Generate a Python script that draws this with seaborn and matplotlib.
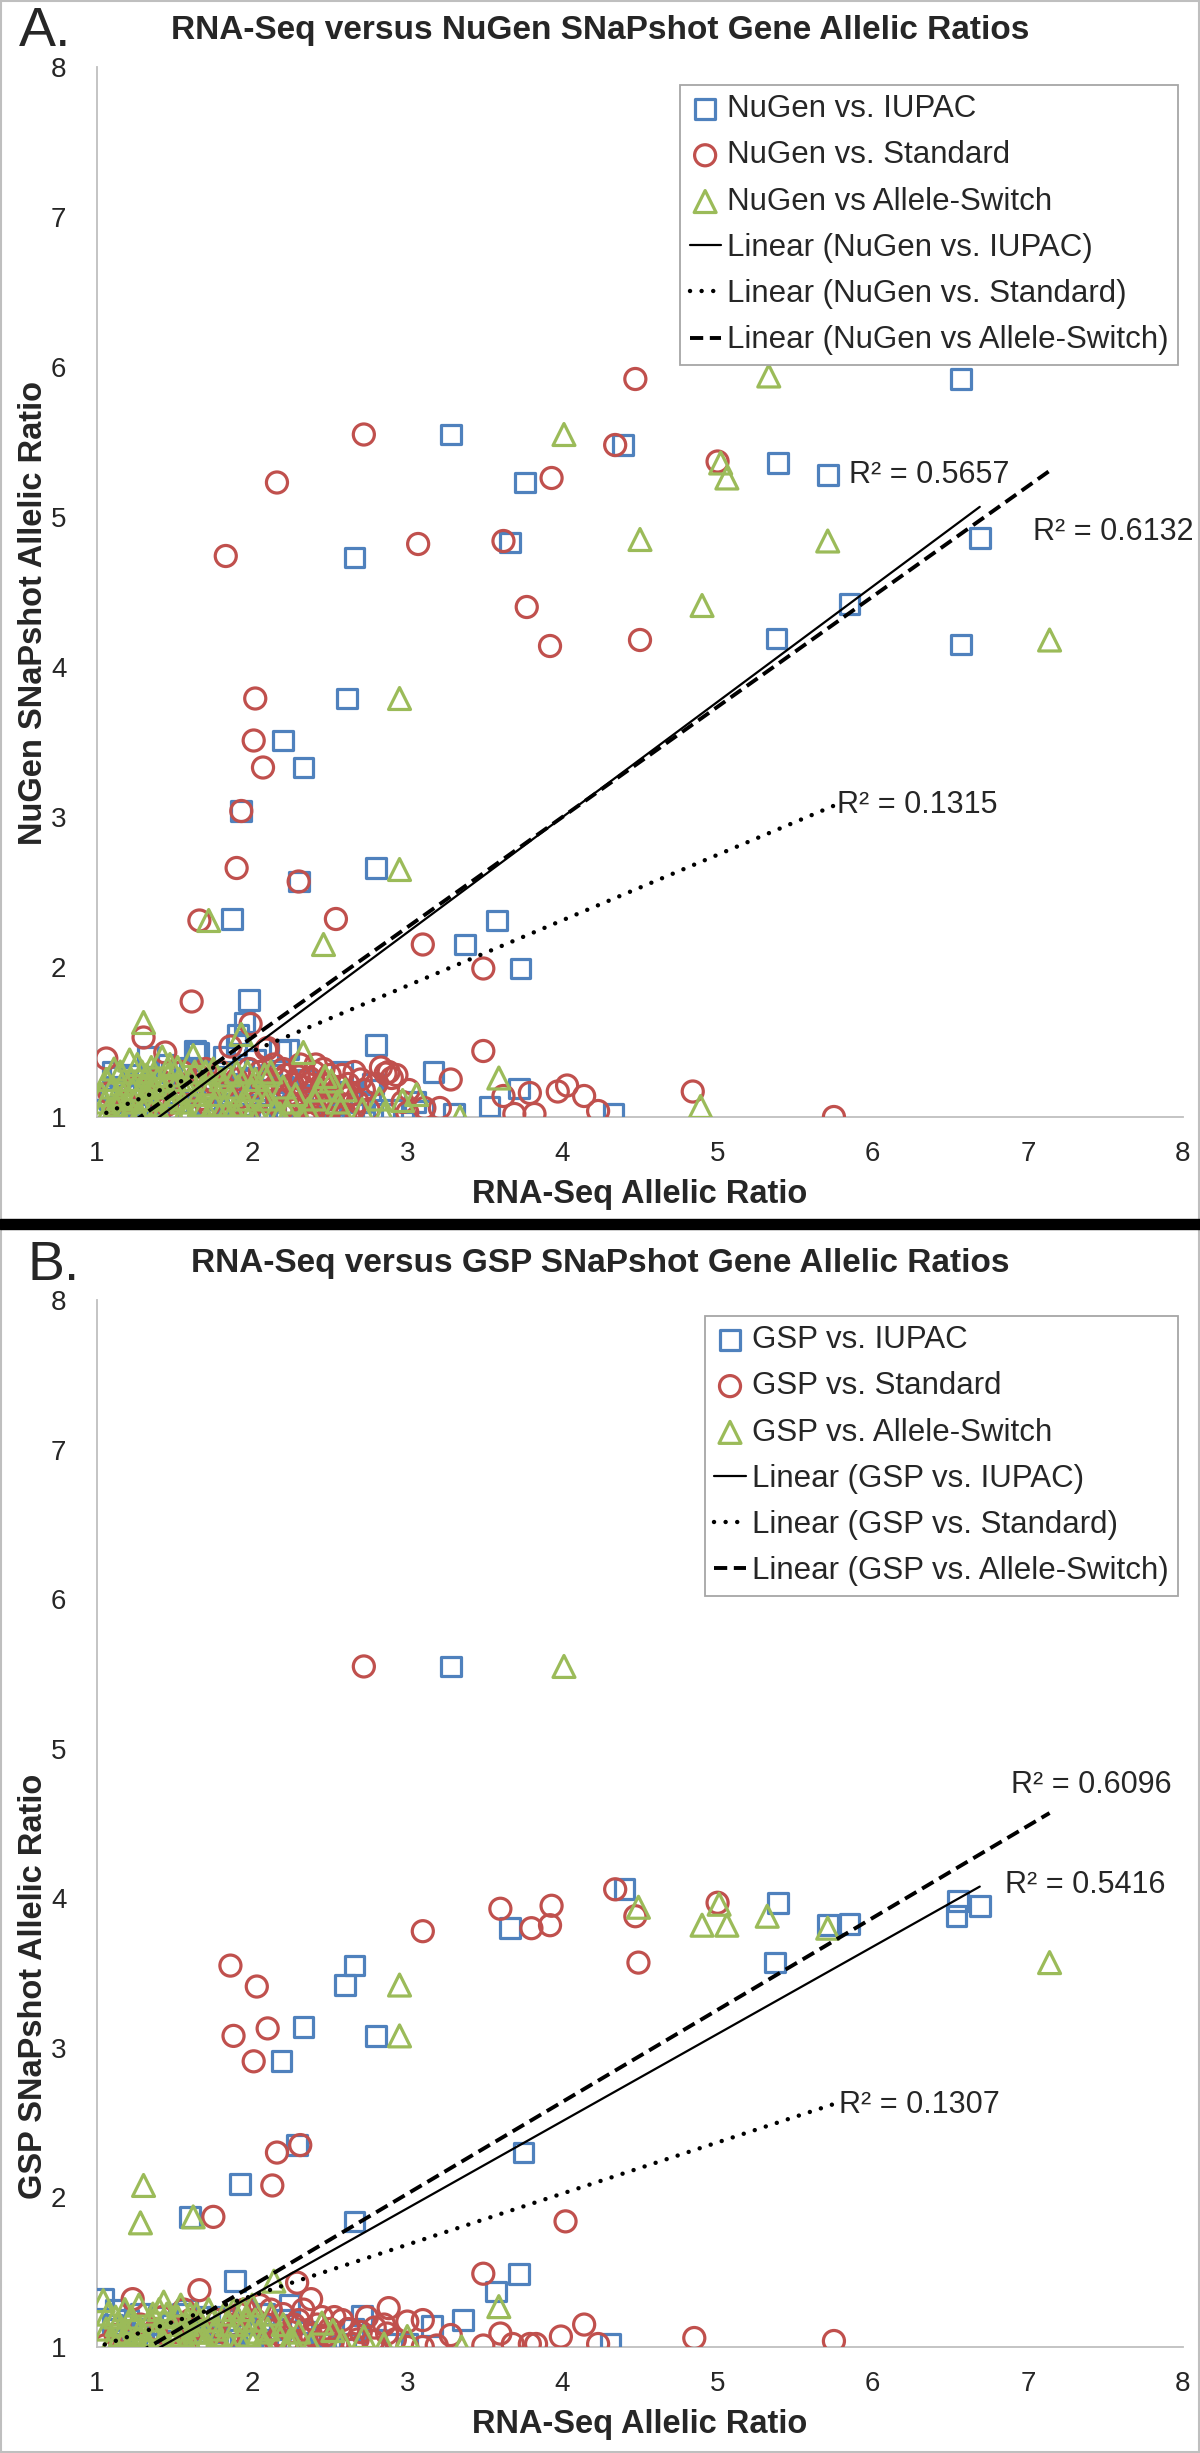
import numpy as np
import seaborn as sns
import matplotlib.pyplot as plt
from matplotlib.patches import Rectangle


BLUE = "#4F81BD"
RED = "#C0504D"
GREEN = "#9BBB59"

X_TICKS = [1, 2, 3, 4, 5, 6, 7, 8]
Y_TICKS = [1, 2, 3, 4, 5, 6, 7, 8]

# ---- Panel A: RNA-Seq vs NuGen SNaPshot (x, y) ----
A_IUPAC = [
    (6.57, 5.92), (3.28, 5.55), (4.39, 5.48), (5.39, 5.36), (5.71, 5.28), (3.76, 5.23),
    (6.69, 4.86), (3.66, 4.83), (2.66, 4.73), (5.85, 4.42), (5.38, 4.19), (6.57, 4.15),
    (2.61, 3.79), (2.20, 3.51), (2.33, 3.33), (1.93, 3.04), (2.80, 2.66), (2.30, 2.57),
    (1.87, 2.32), (3.58, 2.31), (3.37, 2.15), (3.73, 1.99), (1.98, 1.78), (1.95, 1.63),
    (1.91, 1.55), (1.90, 1.48), (2.80, 1.48), (2.23, 1.45), (2.18, 1.44), (1.63, 1.44),
    (1.65, 1.43), (1.33, 1.40), (3.17, 1.30), (2.58, 1.30), (1.15, 1.27), (1.24, 1.28),
    (2.78, 1.22), (2.76, 1.18), (3.72, 1.19), (3.53, 1.07), (4.33, 1.02), (1.04, 1.05),
    (1.08, 1.12), (1.12, 1.20), (1.18, 1.10), (1.20, 1.02), (1.22, 1.15), (1.28, 1.08),
    (1.30, 1.18), (1.35, 1.02), (1.38, 1.12), (1.42, 1.22), (1.45, 1.06), (1.48, 1.30),
    (1.50, 1.15), (1.53, 1.03), (1.56, 1.20), (1.60, 1.33), (1.68, 1.25), (1.72, 1.04),
    (1.75, 1.18), (1.80, 1.30), (1.84, 1.08), (1.88, 1.22), (1.92, 1.02), (1.96, 1.14),
    (2.00, 1.26), (2.05, 1.05), (2.10, 1.18), (2.15, 1.10), (2.22, 1.02), (2.30, 1.15),
    (2.40, 1.03), (2.50, 1.08), (2.65, 1.02), (2.90, 1.05), (3.05, 1.10), (3.30, 1.02),
    (1.10, 1.30), (1.26, 1.02), (1.32, 1.25), (1.40, 1.08), (1.44, 1.35), (1.52, 1.10),
    (1.58, 1.02), (1.62, 1.22), (1.70, 1.12), (1.78, 1.05), (1.82, 1.40), (1.86, 1.15),
    (1.94, 1.32), (1.98, 1.08), (2.02, 1.38), (2.08, 1.02), (2.12, 1.28), (2.20, 1.20),
    (2.26, 1.08), (2.35, 1.25), (2.45, 1.12), (2.55, 1.02), (2.70, 1.10), (2.85, 1.02),
    (3.10, 1.04),
]
A_STD = [
    (4.47, 5.92), (2.72, 5.55), (4.34, 5.48), (5.00, 5.37), (3.93, 5.26), (2.16, 5.23),
    (3.07, 4.82), (3.62, 4.84), (1.83, 4.74), (3.77, 4.40), (4.50, 4.18), (3.92, 4.14),
    (2.02, 3.79), (2.01, 3.51), (2.07, 3.33), (1.93, 3.04), (1.90, 2.66), (2.30, 2.57),
    (1.66, 2.31), (2.54, 2.32), (3.10, 2.15), (3.49, 1.99), (1.61, 1.77), (1.30, 1.53),
    (1.99, 1.62), (1.86, 1.47), (2.09, 1.45), (1.06, 1.39), (3.49, 1.44), (1.44, 1.43),
    (2.41, 1.35), (2.83, 1.33), (2.88, 1.30), (2.93, 1.28), (3.28, 1.25), (4.03, 1.21),
    (3.97, 1.17), (4.14, 1.14), (3.79, 1.16), (4.84, 1.17), (5.75, 1.00), (3.62, 1.14),
    (3.69, 1.02), (3.82, 1.02), (4.23, 1.04), (3.21, 1.06), (3.11, 1.06), (3.00, 1.03),
    (3.01, 1.18), (2.80, 1.22), (2.61, 1.13), (2.66, 1.06), (2.49, 1.00), (2.39, 1.00),
    (1.97, 1.00), (1.08, 1.16), (1.12, 1.05), (1.16, 1.02), (1.20, 1.10), (1.25, 1.20),
    (1.30, 1.05), (1.35, 1.15), (1.40, 1.25), (1.50, 1.10), (1.55, 1.30), (1.60, 1.18),
    (1.65, 1.28), (1.70, 1.32), (1.72, 1.08), (1.76, 1.22), (1.80, 1.30), (1.85, 1.12),
    (1.90, 1.25), (1.95, 1.05), (2.00, 1.20), (2.05, 1.30), (2.10, 1.46), (2.12, 1.10),
    (2.18, 1.25), (2.20, 1.32), (2.24, 1.15), (2.28, 1.05), (2.30, 1.27), (2.33, 1.20),
    (2.36, 1.10), (2.40, 1.30), (2.42, 1.02), (2.45, 1.22), (2.48, 1.15), (2.50, 1.28),
    (2.53, 1.08), (2.56, 1.20), (2.60, 1.02), (2.64, 1.15), (2.70, 1.25), (2.75, 1.05),
    (2.86, 1.29), (2.90, 1.26), (2.97, 1.10), (2.14, 1.35), (2.16, 1.18), (2.19, 1.05),
    (2.22, 1.28), (2.26, 1.22), (2.29, 1.12), (2.31, 1.35), (2.34, 1.02), (2.37, 1.26),
    (2.39, 1.18), (2.43, 1.08), (2.46, 1.32), (2.49, 1.22), (2.52, 1.12), (2.55, 1.04),
    (2.58, 1.28), (2.62, 1.22), (2.66, 1.30), (2.68, 1.10), (2.72, 1.18), (1.45, 1.08),
    (1.58, 1.22), (1.68, 1.12), (1.82, 1.20), (1.88, 1.02), (1.98, 1.32), (2.03, 1.10),
    (2.07, 1.22),
]
A_SWITCH = [
    (5.33, 5.94), (4.01, 5.55), (5.02, 5.36), (5.06, 5.26), (4.50, 4.85), (5.71, 4.84),
    (4.90, 4.41), (7.14, 4.18), (2.95, 3.79), (2.95, 2.65), (1.72, 2.31), (2.46, 2.15),
    (1.30, 1.63), (1.93, 1.55), (2.33, 1.43), (3.59, 1.26), (3.34, 1.00), (4.89, 1.07),
    (2.97, 1.11), (2.82, 1.12), (2.71, 1.05), (2.51, 1.24), (2.57, 1.06), (2.40, 1.12),
    (2.23, 1.03), (1.02, 1.02), (1.05, 1.10), (1.07, 1.04), (1.10, 1.20), (1.12, 1.08),
    (1.15, 1.30), (1.17, 1.15), (1.20, 1.02), (1.22, 1.25), (1.24, 1.10), (1.26, 1.35),
    (1.28, 1.18), (1.30, 1.05), (1.32, 1.28), (1.34, 1.12), (1.36, 1.22), (1.38, 1.03),
    (1.42, 1.40), (1.44, 1.15), (1.46, 1.28), (1.48, 1.06), (1.50, 1.20), (1.52, 1.33),
    (1.55, 1.10), (1.58, 1.02), (1.60, 1.25), (1.62, 1.41), (1.65, 1.15), (1.68, 1.05),
    (1.70, 1.30), (1.73, 1.20), (1.76, 1.08), (1.80, 1.25), (1.83, 1.02), (1.86, 1.15),
    (1.90, 1.30), (1.93, 1.08), (1.97, 1.30), (2.00, 1.18), (2.04, 1.02), (2.08, 1.28),
    (2.10, 1.12), (2.15, 1.05), (2.20, 1.20), (2.25, 1.10), (2.32, 1.00), (2.47, 1.27),
    (2.60, 1.18), (2.85, 1.02), (3.06, 1.15), (1.03, 1.15), (1.06, 1.25), (1.09, 1.02),
    (1.11, 1.32), (1.14, 1.12), (1.16, 1.22), (1.19, 1.06), (1.21, 1.38), (1.23, 1.18),
    (1.27, 1.02), (1.29, 1.30), (1.31, 1.12), (1.33, 1.20), (1.35, 1.33), (1.37, 1.08),
    (1.39, 1.25), (1.41, 1.02), (1.43, 1.20), (1.47, 1.35), (1.49, 1.12), (1.53, 1.25),
    (1.56, 1.03), (1.59, 1.18), (1.63, 1.30), (1.66, 1.08), (1.69, 1.22), (1.72, 1.02),
    (1.75, 1.32), (1.78, 1.15), (1.82, 1.08), (1.85, 1.28), (1.88, 1.05), (1.91, 1.20),
    (1.95, 1.12), (1.99, 1.02), (2.02, 1.25), (2.06, 1.15), (2.12, 1.30), (2.18, 1.02),
    (2.28, 1.15), (2.36, 1.05), (2.44, 1.18), (2.55, 1.10),
]

# ---- Panel B: RNA-Seq vs GSP SNaPshot (x, y) ----
B_IUPAC = [
    (3.28, 5.55), (4.40, 4.06), (5.39, 3.97), (6.55, 3.98), (6.69, 3.95), (6.54, 3.88),
    (5.85, 3.83), (5.71, 3.82), (3.66, 3.80), (2.66, 3.55), (5.37, 3.57), (2.60, 3.42),
    (2.33, 3.14), (2.80, 3.08), (2.19, 2.91), (2.29, 2.35), (3.75, 2.30), (1.92, 2.09),
    (1.60, 1.87), (2.66, 1.84), (3.72, 1.49), (3.57, 1.37), (1.89, 1.44), (1.04, 1.32),
    (2.24, 1.28), (2.71, 1.21), (3.16, 1.14), (3.36, 1.18), (4.31, 1.02), (1.10, 1.15),
    (1.15, 1.05), (1.20, 1.18), (1.25, 1.08), (1.30, 1.12), (1.35, 1.02), (1.40, 1.20),
    (1.45, 1.10), (1.50, 1.04), (1.55, 1.22), (1.60, 1.12), (1.65, 1.05), (1.70, 1.20),
    (1.75, 1.10), (1.80, 1.02), (1.85, 1.18), (1.90, 1.08), (1.95, 1.25), (2.00, 1.05),
    (2.05, 1.15), (2.10, 1.02), (2.18, 1.12), (2.30, 1.03), (2.45, 1.08), (2.60, 1.02),
    (2.80, 1.05), (3.00, 1.02), (1.12, 1.25), (1.22, 1.02), (1.28, 1.22), (1.38, 1.05),
    (1.48, 1.15), (1.58, 1.25), (1.68, 1.10), (1.78, 1.20), (1.88, 1.02), (1.98, 1.15),
    (2.08, 1.22), (2.15, 1.05), (2.22, 1.18), (2.35, 1.10), (2.50, 1.02), (2.65, 1.12),
    (2.90, 1.02),
]
B_STD = [
    (2.72, 5.55), (4.34, 4.06), (3.93, 3.95), (5.00, 3.97), (3.60, 3.93), (4.47, 3.88),
    (3.92, 3.82), (3.80, 3.80), (3.10, 3.78), (4.49, 3.57), (1.86, 3.55), (2.03, 3.41),
    (2.10, 3.13), (1.88, 3.08), (2.01, 2.91), (2.31, 2.35), (2.16, 2.30), (2.13, 2.08),
    (1.75, 1.87), (4.02, 1.84), (3.49, 1.49), (2.29, 1.43), (1.66, 1.38), (2.38, 1.32),
    (1.23, 1.32), (2.88, 1.26), (2.53, 1.20), (2.74, 1.20), (2.79, 1.13), (3.00, 1.17),
    (3.10, 1.18), (3.28, 1.08), (3.60, 1.09), (4.14, 1.15), (3.99, 1.07), (2.87, 1.09),
    (3.19, 1.01), (3.10, 1.00), (3.49, 1.01), (3.68, 1.02), (3.79, 1.02), (3.83, 1.02),
    (4.23, 1.02), (4.85, 1.06), (5.75, 1.04), (3.00, 1.00), (1.05, 1.01), (1.12, 1.08),
    (1.18, 1.02), (1.28, 1.15), (1.35, 1.05), (1.42, 1.20), (1.50, 1.10), (1.56, 1.25),
    (1.62, 1.12), (1.70, 1.04), (1.78, 1.18), (1.85, 1.08), (1.92, 1.22), (1.98, 1.05),
    (2.05, 1.28), (2.10, 1.15), (2.15, 1.04), (2.20, 1.22), (2.25, 1.10), (2.30, 1.18),
    (2.35, 1.05), (2.42, 1.15), (2.48, 1.08), (2.55, 1.02), (2.62, 1.12), (2.68, 1.05),
    (2.02, 1.18), (2.12, 1.25), (2.18, 1.08), (2.22, 1.02), (2.27, 1.15), (2.33, 1.25),
    (2.38, 1.08), (2.40, 1.02), (2.45, 1.20), (2.50, 1.12), (2.52, 1.04), (2.58, 1.18),
    (2.65, 1.02), (2.70, 1.10), (2.78, 1.04), (2.85, 1.15), (2.92, 1.05), (1.22, 1.05),
    (1.38, 1.12), (1.48, 1.02), (1.60, 1.18), (1.75, 1.10), (1.88, 1.15), (1.95, 1.25),
]
B_SWITCH = [
    (4.01, 5.55), (4.49, 3.94), (5.01, 3.96), (4.90, 3.82), (5.06, 3.82), (5.32, 3.88),
    (5.71, 3.80), (7.14, 3.57), (2.95, 3.42), (2.95, 3.08), (1.30, 2.08), (1.62, 1.87),
    (1.28, 1.83), (2.14, 1.44), (3.59, 1.27), (1.04, 1.31), (1.07, 1.22), (2.45, 1.16),
    (2.52, 1.11), (2.58, 1.04), (2.72, 1.07), (2.85, 1.02), (3.00, 1.07), (2.24, 1.04),
    (3.35, 1.00), (1.10, 1.05), (1.13, 1.15), (1.16, 1.02), (1.19, 1.10), (1.22, 1.20),
    (1.25, 1.05), (1.28, 1.12), (1.31, 1.02), (1.34, 1.18), (1.37, 1.08), (1.40, 1.25),
    (1.43, 1.30), (1.46, 1.12), (1.49, 1.03), (1.52, 1.20), (1.55, 1.08), (1.58, 1.15),
    (1.61, 1.02), (1.64, 1.22), (1.67, 1.10), (1.70, 1.04), (1.74, 1.18), (1.78, 1.08),
    (1.82, 1.22), (1.86, 1.02), (1.90, 1.15), (1.94, 1.25), (1.98, 1.08), (2.02, 1.18),
    (2.06, 1.04), (2.10, 1.12), (2.18, 1.06), (2.30, 1.10), (2.38, 1.02), (1.06, 1.12),
    (1.09, 1.02), (1.12, 1.20), (1.15, 1.08), (1.18, 1.25), (1.21, 1.02), (1.24, 1.15),
    (1.27, 1.28), (1.30, 1.08), (1.33, 1.02), (1.36, 1.22), (1.39, 1.12), (1.42, 1.05),
    (1.45, 1.22), (1.48, 1.15), (1.51, 1.08), (1.54, 1.28), (1.57, 1.02), (1.60, 1.22),
    (1.63, 1.10), (1.66, 1.18), (1.69, 1.02), (1.72, 1.25), (1.76, 1.12), (1.80, 1.02),
    (1.84, 1.15), (1.88, 1.25), (1.92, 1.05), (1.96, 1.18), (2.00, 1.28), (2.04, 1.10),
    (2.08, 1.02), (2.12, 1.22), (2.20, 1.15), (2.26, 1.05),
]

# trendline coefficients (slope, intercept) and R² labels
A_SLOPE = [0.769, 0.4366, 0.735]
A_INTERCEPT = [-0.077, 0.565, 0.06]
A_R2 = ["R² = 0.5657", "R² = 0.1315", "R² = 0.6132"]
A_R2_X = [5.85, 5.77, 7.03]
A_R2_Y = [5.28, 3.08, 4.90]

B_SLOPE = [0.583, 0.342, 0.615]
B_INTERCEPT = [0.178, 0.658, 0.179]
B_R2 = ["R² = 0.5416", "R² = 0.1307", "R² = 0.6096"]
B_R2_X = [6.85, 5.78, 6.89]
B_R2_Y = [4.09, 2.62, 4.76]

A_NAMES = ["NuGen vs. IUPAC", "NuGen vs. Standard", "NuGen vs Allele-Switch"]
A_TREND_NAMES = ["Linear (NuGen vs. IUPAC)", "Linear (NuGen vs. Standard)",
                 "Linear (NuGen vs Allele-Switch)"]
B_NAMES = ["GSP vs. IUPAC", "GSP vs. Standard", "GSP vs. Allele-Switch"]
B_TREND_NAMES = ["Linear (GSP vs. IUPAC)", "Linear (GSP vs. Standard)",
                 "Linear (GSP vs. Allele-Switch)"]

MARKERS = ["s", "o", "^"]
COLORS = [BLUE, RED, GREEN]
SIZES = [200, 230, 250]
LINE_STYLES = ["-", (0, (0.01, 2.6)), (0, (3.4, 1.7))]
LINE_WIDTHS = [1.6, 3.2, 2.8]

FIG_W, FIG_H = 1200, 2453


def draw_panel(ax, series, names, slopes, intercepts, trend_names,
               r2_text, r2_x, r2_y, title, ylabel, ylabel_pos, legend_top):
    for pts, name, marker, color, size in zip(series, names, MARKERS, COLORS, SIZES):
        xs = [p[0] for p in pts]
        ys = [p[1] for p in pts]
        sns.scatterplot(x=xs, y=ys, ax=ax, marker=marker, s=size, facecolor="none",
                        edgecolor=color, linewidth=2.3, label=name, legend=False, zorder=3)

    for pts, m, b, name, ls, lw in zip(series, slopes, intercepts, trend_names,
                                       LINE_STYLES, LINE_WIDTHS):
        xs = np.array([min(p[0] for p in pts), max(p[0] for p in pts)])
        ax.plot(xs, b + m * xs, color="black", linestyle=ls, linewidth=lw,
                dash_capstyle="round" if lw > 3 else "butt", label=name, zorder=4)

    for txt, tx, ty in zip(r2_text, r2_x, r2_y):
        ax.text(tx, ty, txt, fontsize=22, ha="left", va="center", zorder=5)

    ax.set_xlim(1, 8)
    ax.set_ylim(1, 8)
    ax.set_xticks(X_TICKS)
    ax.set_yticks(Y_TICKS)
    ax.tick_params(axis="both", direction="out", length=5, width=1.2, color="#A6A6A6",
                   labelsize=20)
    ax.tick_params(axis="x", pad=12)
    ax.tick_params(axis="y", pad=17)
    for side in ["top", "right"]:
        ax.spines[side].set_visible(False)
    for side in ["left", "bottom"]:
        ax.spines[side].set_color("#BFBFBF")
        ax.spines[side].set_linewidth(1.3)

    ax.set_xlabel("RNA-Seq Allelic Ratio", fontsize=23.5, fontweight="bold")
    ax.xaxis.set_label_coords(0.5, -78 / 1050)
    ax.xaxis.label.set_va("center")
    ax.set_ylabel(ylabel, fontsize=23.5, fontweight="bold")
    ax.yaxis.set_label_coords(-63 / 1086, ylabel_pos)
    ax.yaxis.label.set_va("center")
    # the chart title is centred on the whole picture, not on the plot area
    ax.set_title(title, fontsize=24, fontweight="bold", pad=20, x=(600 - 97) / 1086)

    handles, labels = ax.get_legend_handles_labels()
    leg = ax.legend(handles, labels, loc="upper right", bbox_to_anchor=(0.9954, legend_top),
                    borderaxespad=0, fontsize=22.5, scatterpoints=1, handlelength=1.0,
                    handletextpad=0.2, labelspacing=0.52, borderpad=0.3, frameon=True,
                    fancybox=False, framealpha=1)
    leg.get_frame().set_edgecolor("#A6A6A6")
    leg.get_frame().set_linewidth(1.3)


def main() -> None:
    sns.set_theme(style="white")
    plt.rcParams["font.family"] = ["Liberation Sans", "DejaVu Sans"]

    fig = plt.figure(figsize=(FIG_W / 100, FIG_H / 100), dpi=100)

    ax_a = fig.add_axes([97 / FIG_W, 1 - 1117 / FIG_H, 1086 / FIG_W, 1050 / FIG_H])
    ax_b = fig.add_axes([97 / FIG_W, 1 - 2347 / FIG_H, 1086 / FIG_W, 1047 / FIG_H])

    draw_panel(ax_a, [A_IUPAC, A_STD, A_SWITCH], A_NAMES, A_SLOPE, A_INTERCEPT,
               A_TREND_NAMES, A_R2, A_R2_X, A_R2_Y,
               "RNA-Seq versus NuGen SNaPshot Gene Allelic Ratios",
               "NuGen SNaPshot Allelic Ratio", 0.48, 0.983)
    draw_panel(ax_b, [B_IUPAC, B_STD, B_SWITCH], B_NAMES, B_SLOPE, B_INTERCEPT,
               B_TREND_NAMES, B_R2, B_R2_X, B_R2_Y,
               "RNA-Seq versus GSP SNaPshot Gene Allelic Ratios",
               "GSP SNaPshot Allelic Ratio", 0.344, 0.985)

    # panel letters, separator bar and outer frame
    fig.text(19 / FIG_W, 1 - 6 / FIG_H, "A.", fontsize=40, ha="left", va="top")
    fig.text(28 / FIG_W, 1 - 1240 / FIG_H, "B.", fontsize=40, ha="left", va="top")
    fig.add_artist(Rectangle((0, 1 - 1229 / FIG_H), 1, 10 / FIG_H,
                             transform=fig.transFigure, color="black", zorder=10))
    fig.add_artist(Rectangle((0.001, 0.0005), 0.998, 0.999, transform=fig.transFigure,
                             fill=False, edgecolor="#BFBFBF", linewidth=1.5))

    fig.savefig("out.png", dpi=100)
    plt.close(fig)


if __name__ == "__main__":
    main()
